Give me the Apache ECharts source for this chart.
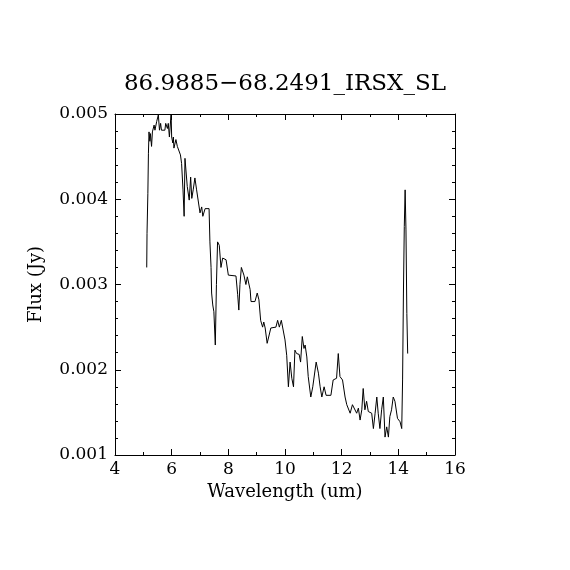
<!DOCTYPE html>
<html>
<head>
<meta charset="utf-8">
<script src="https://cdn.jsdelivr.net/npm/echarts@6/dist/echarts.min.js"></script>
<style>
html,body{margin:0;padding:0;background:#fff;}
#chart{width:570px;height:570px;}
</style>
</head>
<body>
<div id="chart"></div>
<script>
const titleText = "86.9885\u221268.2491_IRSX_SL";
const xName = "Wavelength (um)";
const yName = "Flux (Jy)";
const xTicks = [4, 6, 8, 10, 12, 14, 16];
const yTicks = [0.001, 0.002, 0.003, 0.004, 0.005];

const wavelength = [
 5.12,5.13,5.16,5.18,5.20,5.23,5.25,5.29,5.32,5.38,5.41,5.47,5.53,5.57,5.61,5.64,5.76,5.79,5.85,5.88,
 5.92,5.98,6.00,6.04,6.06,6.08,6.15,6.20,6.27,6.31,6.35,6.40,6.44,6.47,6.50,6.55,6.62,6.67,6.71,6.76,
 6.82,6.88,6.94,7.00,7.06,7.10,7.18,7.32,7.35,7.39,7.41,7.45,7.49,7.54,7.58,7.62,7.68,7.74,7.80,7.92,
 8.00,8.27,8.33,8.37,8.41,8.46,8.55,8.62,8.67,8.77,8.80,8.94,9.02,9.08,9.14,9.21,9.25,9.30,9.37,9.50,
 9.68,9.74,9.80,9.87,9.94,10.00,10.06,10.12,10.18,10.24,10.30,10.35,10.41,10.50,10.55,10.61,10.67,10.71,10.77,10.82,
 10.91,10.98,11.04,11.10,11.18,11.24,11.30,11.38,11.45,11.62,11.70,11.82,11.88,11.94,12.03,12.12,12.18,12.23,12.30,12.38,
 12.45,12.53,12.59,12.65,12.71,12.76,12.82,12.88,12.94,13.06,13.12,13.18,13.24,13.29,13.35,13.41,13.47,13.53,13.59,13.65,
 13.70,13.76,13.82,13.88,13.97,14.06,14.12,14.15,14.18,14.21,14.24,14.27,14.30,14.33
];
const flux = [
 0.00320,0.00360,0.00407,0.00454,0.00479,0.00468,0.00477,0.00462,0.00479,0.00487,0.00481,0.00491,0.00499,0.00481,0.00489,0.00481,0.00481,0.00489,0.00483,0.00489,
 0.00473,0.00500,0.00473,0.00466,0.00473,0.00460,0.00470,0.00462,0.00460,0.00452,0.00442,0.00411,0.00380,0.00448,0.00450,0.00415,0.00399,0.00426,0.00401,0.00411,
 0.00425,0.00411,0.00411,0.00384,0.00391,0.00380,0.00389,0.00389,0.00350,0.00320,0.00290,0.00276,0.00268,0.00229,0.00300,0.00350,0.00346,0.00320,0.00331,0.00329,
 0.00311,0.00310,0.00288,0.00270,0.00300,0.00320,0.00311,0.00300,0.00309,0.00294,0.00280,0.00280,0.00290,0.00282,0.00258,0.00250,0.00256,0.00249,0.00231,0.00249,
 0.00250,0.00258,0.00250,0.00258,0.00258,0.00235,0.00217,0.00180,0.00209,0.00190,0.00180,0.00223,0.00219,0.00218,0.00209,0.00239,0.00225,0.00229,0.00215,0.00192,
 0.00168,0.00180,0.00180,0.00209,0.00196,0.00180,0.00168,0.00180,0.00170,0.00170,0.00188,0.00190,0.00219,0.00192,0.00188,0.00168,0.00159,0.00157,0.00149,0.00159,
 0.00159,0.00149,0.00155,0.00141,0.00153,0.00178,0.00153,0.00163,0.00151,0.00149,0.00131,0.00149,0.00168,0.00149,0.00131,0.00153,0.00168,0.00121,0.00133,0.00121,
 0.00145,0.00153,0.00168,0.00163,0.00143,0.00139,0.00131,0.00188,0.00290,0.00368,0.00411,0.00364,0.00266,0.00219
];

const points = wavelength.map((w, i) => [w, flux[i]]);
const serif = "'DejaVu Serif', 'Liberation Serif', serif";
const fmtY = v => { const t = yTicks.find(y => Math.abs(y - v) < 1e-9); return t !== undefined ? t.toFixed(3) : ''; };
const fmtX = v => { const t = xTicks.find(x => Math.abs(x - v) < 1e-9); return t !== undefined ? String(t) : ''; };

const chart = echarts.init(document.getElementById('chart'), null, {renderer: 'canvas'});
const lineStyle = {color: '#000', width: 1};
chart.setOption({
  backgroundColor: '#fff',
  animation: false,
  title: {
    text: titleText, left: 'center', top: 68,
    textStyle: {fontFamily: serif, fontSize: 23, fontWeight: 'normal', color: '#000'}
  },
  grid: {left: 115, right: 115, top: 114, bottom: 115, containLabel: false},
  xAxis: [{
    type: 'value', min: 4, max: 16, interval: 2, position: 'bottom',
    name: xName, nameLocation: 'middle', nameGap: 27,
    nameTextStyle: {fontFamily: serif, fontSize: 18, color: '#000'},
    axisLine: {show: true, onZero: false, lineStyle},
    axisTick: {show: true, inside: true, length: 6, lineStyle},
    minorTick: {show: true, splitNumber: 2, length: 3, lineStyle},
    axisLabel: {fontFamily: serif, fontSize: 17, color: '#000', margin: 6, formatter: fmtX},
    splitLine: {show: false}
  }, {
    type: 'value', min: 4, max: 16, interval: 2, position: 'top',
    axisLine: {show: true, onZero: false, lineStyle},
    axisTick: {show: true, inside: true, length: 6, lineStyle},
    minorTick: {show: true, splitNumber: 2, length: 3, lineStyle},
    axisLabel: {show: false}, splitLine: {show: false}
  }],
  yAxis: [{
    type: 'value', min: 0.001, max: 0.005, interval: 0.001, position: 'left',
    name: yName, nameLocation: 'middle', nameGap: 70,
    nameTextStyle: {fontFamily: serif, fontSize: 18, color: '#000'},
    axisLine: {show: true, onZero: false, lineStyle},
    axisTick: {show: true, inside: true, length: 6, lineStyle},
    minorTick: {show: true, splitNumber: 5, length: 3, lineStyle},
    axisLabel: {fontFamily: serif, fontSize: 17, color: '#000', margin: 7, formatter: fmtY},
    splitLine: {show: false}
  }, {
    type: 'value', min: 0.001, max: 0.005, interval: 0.001, position: 'right',
    axisLine: {show: true, onZero: false, lineStyle},
    axisTick: {show: true, inside: true, length: 6, lineStyle},
    minorTick: {show: true, splitNumber: 5, length: 3, lineStyle},
    axisLabel: {show: false}, splitLine: {show: false}
  }],
  series: [{
    type: 'line', data: points, xAxisIndex: 0, yAxisIndex: 0,
    showSymbol: false, symbol: 'none', smooth: false,
    lineStyle: {color: '#000', width: 1}, clip: true
  }]
});
</script>
</body>
</html>
